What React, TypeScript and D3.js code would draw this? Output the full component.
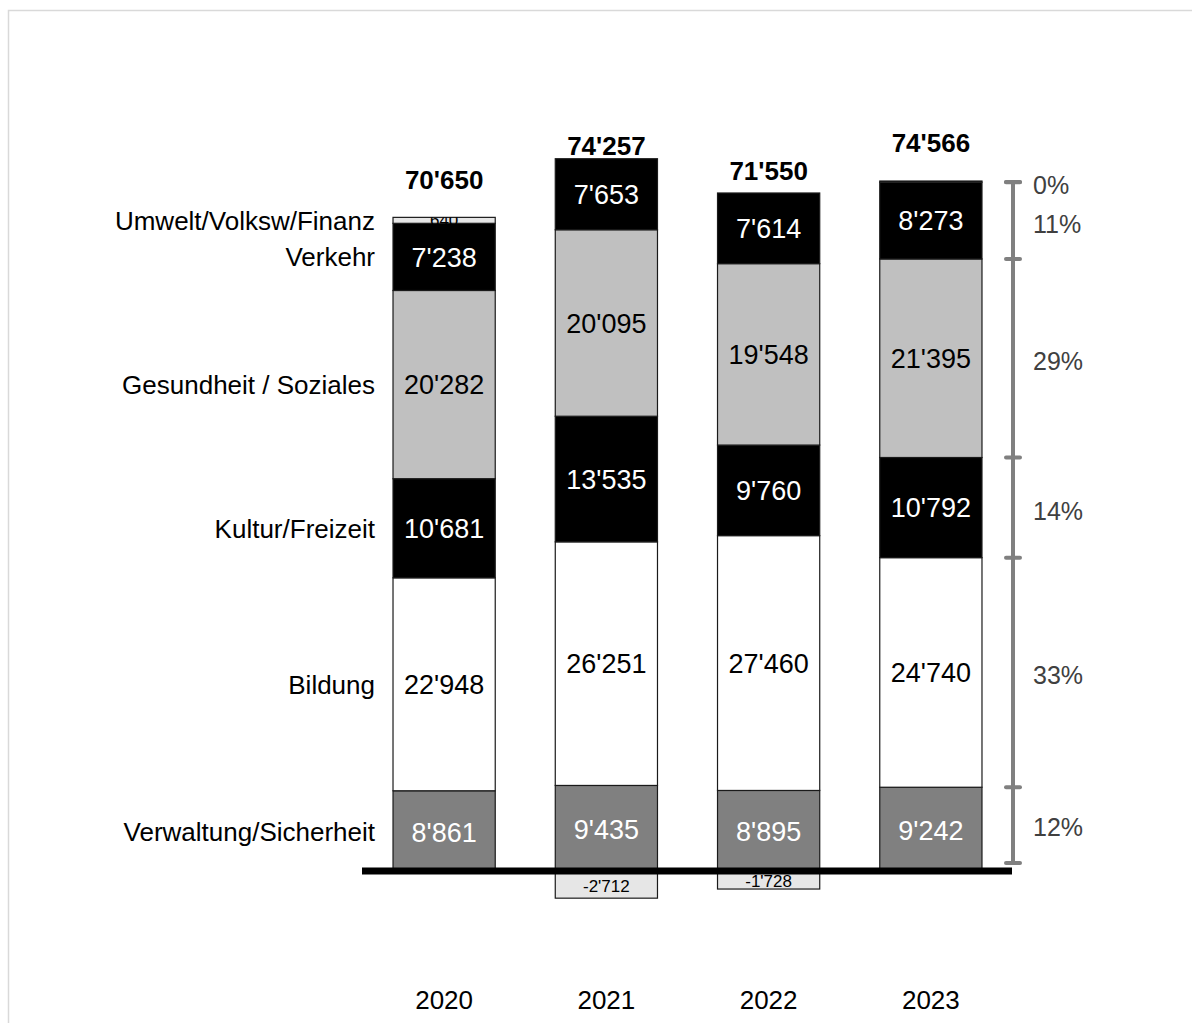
import { useEffect, useRef } from 'react';
import * as d3 from 'd3';

const years = ['2020', '2021', '2022', '2023'];
const categories = [
  'Verwaltung/Sicherheit',
  'Bildung',
  'Kultur/Freizeit',
  'Gesundheit / Soziales',
  'Verkehr',
  'Umwelt/Volksw/Finanz',
];
const verwaltung = [8861, 9435, 8895, 9242];
const bildung = [22948, 26251, 27460, 24740];
const kultur = [10681, 13535, 9760, 10792];
const gesundheit = [20282, 20095, 19548, 21395];
const verkehr = [7238, 7653, 7614, 8273];
const umwelt = [640, -2712, -1728, 124];
const totals = [70650, 74257, 71550, 74566];

const fills = ['#808080', '#ffffff', '#000000', '#c0c0c0', '#000000', '#e6e6e6'];
const textFills = ['#ffffff', '#000000', '#ffffff', '#000000', '#ffffff', '#000000'];

const FONT = 'Arial, "Liberation Sans", sans-serif';

export default function App() {
  const svgRef = useRef<SVGSVGElement>(null);

  useEffect(() => {
    if (!svgRef.current) return;
    const width = 1192;
    const height = 1023;
    const svg = d3.select(svgRef.current);
    svg.selectAll('*').remove();
    svg.attr('width', width).attr('height', height);

    const series = [verwaltung, bildung, kultur, gesundheit, verkehr, umwelt];
    const rows = years.map((y, i) => {
      const r: Record<string, number | string> = { year: y };
      categories.forEach((c, j) => (r[c] = series[j][i]));
      return r;
    });

    const stacked = d3.stack<any>()
      .keys(categories)
      .offset(d3.stackOffsetDiverging)(rows);

    const locale = d3.formatLocale({
      decimal: '.',
      thousands: "'",
      grouping: [3],
      currency: ['', ''],
      minus: '-',
    });
    const fmt = locale.format(',d');

    const x = d3.scaleBand()
      .domain(years)
      .range([363, 1012])
      .paddingInner(0.37)
      .paddingOuter(0.185);

    const y = d3.scaleLinear()
      .domain([0, 80000])
      .range([873, 873 - 80000 * 0.00928]);

    // frame
    svg.append('path')
      .attr('d', `M8.5,${height} L8.5,10.5 L${width},10.5`)
      .attr('fill', 'none')
      .attr('stroke', '#d9d9d9')
      .attr('stroke-width', 1.5);

    const defs = svg.append('defs');
    const g = svg.append('g');

    stacked.forEach((s, j) => {
      s.forEach((d, i) => {
        const y0 = y(Math.max(d[0], d[1]));
        const y1 = y(Math.min(d[0], d[1]));
        g.append('rect')
          .attr('x', x(years[i])!)
          .attr('y', y0)
          .attr('width', x.bandwidth())
          .attr('height', y1 - y0)
          .attr('fill', fills[j])
          .attr('stroke', '#1a1a1a')
          .attr('stroke-width', 1.2);
      });
    });

    // segment labels
    stacked.forEach((s, j) => {
      s.forEach((d, i) => {
        const y0 = y(Math.max(d[0], d[1]));
        const y1 = y(Math.min(d[0], d[1]));
        const h = y1 - y0;
        if (h < 4) return;
        const small = j === categories.length - 1;
        const clipId = `clip-${j}-${i}`;
        defs.append('clipPath').attr('id', clipId)
          .append('rect')
          .attr('x', x(years[i])!)
          .attr('y', y0)
          .attr('width', x.bandwidth())
          .attr('height', h + 20);
        g.append('text')
          .attr('x', x(years[i])! + x.bandwidth() / 2)
          .attr('y', (y0 + y1) / 2)
          .attr('dy', '0.36em')
          .attr('text-anchor', 'middle')
          .attr('font-family', FONT)
          .attr('font-size', small ? 17 : 27)
          .attr('fill', textFills[j])
          .attr('clip-path', small ? `url(#${clipId})` : null)
          .text(fmt(series[j][i]));
      });
    });

    // axis line at zero
    svg.append('line')
      .attr('x1', 362)
      .attr('x2', 1012)
      .attr('y1', y(0) - 2)
      .attr('y2', y(0) - 2)
      .attr('stroke', '#000')
      .attr('stroke-width', 7);

    // totals
    svg.selectAll('text.total')
      .data(totals)
      .join('text')
      .attr('class', 'total')
      .attr('x', (_, i) => x(years[i])! + x.bandwidth() / 2)
      .attr('y', (d) => y(d) - 38)
      .attr('dy', '0.36em')
      .attr('text-anchor', 'middle')
      .attr('font-family', FONT)
      .attr('font-weight', 'bold')
      .attr('font-size', 26)
      .attr('fill', '#000')
      .text((d) => fmt(d));

    // category labels (positions from first year)
    stacked.forEach((s, j) => {
      const d = s[0];
      svg.append('text')
        .attr('x', 375)
        .attr('y', (y(d[0]) + y(d[1])) / 2)
        .attr('dy', '0.36em')
        .attr('text-anchor', 'end')
        .attr('font-family', FONT)
        .attr('font-size', 26)
        .attr('fill', '#000')
        .text(categories[j]);
    });

    // year labels
    svg.selectAll('text.year')
      .data(years)
      .join('text')
      .attr('class', 'year')
      .attr('x', (d) => x(d)! + x.bandwidth() / 2)
      .attr('y', 1000)
      .attr('dy', '0.36em')
      .attr('text-anchor', 'middle')
      .attr('font-family', FONT)
      .attr('font-size', 26)
      .attr('fill', '#000')
      .text((d) => d);

    // right bracket with shares of last year
    const last = years.length - 1;
    const lastTotal = totals[last];
    const bx = 1013;
    const bounds = stacked.map((s) => s[last]);
    const tickYs = [y(0) - 10, ...bounds.slice(0, -1).map((d) => y(d[1])), y(bounds[bounds.length - 1][1]) + 1];
    const br = svg.append('g').attr('stroke', '#808080');
    br.append('line')
      .attr('x1', bx).attr('x2', bx)
      .attr('y1', tickYs[0]).attr('y2', tickYs[tickYs.length - 1])
      .attr('stroke-width', 4);
    tickYs.forEach((ty) => {
      br.append('line')
        .attr('x1', bx - 7).attr('x2', bx + 7)
        .attr('y1', ty).attr('y2', ty)
        .attr('stroke-width', 4)
        .attr('stroke-linecap', 'round');
    });
    const pct = d3.format('.0%');
    bounds.forEach((d, j) => {
      const ym = j === 0 ? (tickYs[0] + y(d[1])) / 2 + 2 : (y(d[0]) + y(d[1])) / 2 + 3;
      svg.append('text')
        .attr('x', 1033)
        .attr('y', ym)
        .attr('dy', '0.36em')
        .attr('font-family', FONT)
        .attr('font-size', 25)
        .attr('fill', '#404040')
        .text(pct(series[j][last] / lastTotal));
    });
  }, []);

  return (
    <svg
      ref={svgRef}
      style={{ position: 'absolute', left: 0, top: 0, display: 'block', background: '#fff' }}
    />
  );
}
